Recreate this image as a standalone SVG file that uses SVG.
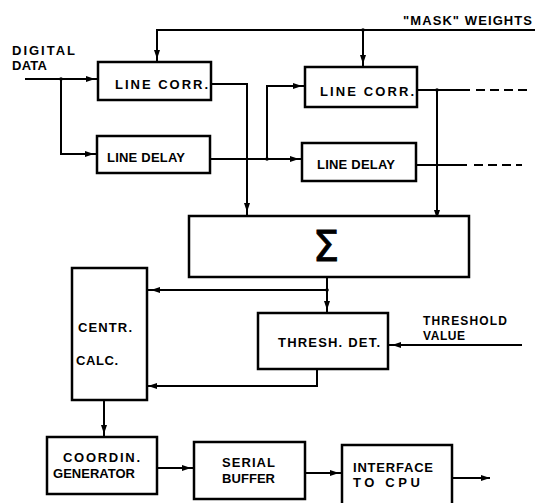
<svg xmlns="http://www.w3.org/2000/svg" width="535" height="503" viewBox="0 0 535 503">
<style>
.box{fill:#fff;stroke:#000;stroke-width:2.5}
.ln{fill:none;stroke:#000;stroke-width:2}
.dash{fill:none;stroke:#000;stroke-width:2;stroke-dasharray:9 5}
.t{font-family:"Liberation Sans",Arial,sans-serif;font-size:13px;font-weight:bold;fill:#000}
.s{font-size:12px}
.sig{font-family:"DejaVu Sans","Liberation Sans",sans-serif;font-size:42px;fill:#000;stroke:#000;stroke-width:0.8}
</style>
<defs>
<marker id="a" markerUnits="userSpaceOnUse" markerWidth="9" markerHeight="6" viewBox="0 0 9 6" refX="12" refY="3" orient="auto">
<path d="M0,0 L9,3 L0,6 z" fill="#000"/>
</marker>
<marker id="ae" markerUnits="userSpaceOnUse" markerWidth="9" markerHeight="6" viewBox="0 0 9 6" refX="9" refY="3" orient="auto">
<path d="M0,0 L9,3 L0,6 z" fill="#000"/>
</marker>
</defs>
<g id="connectors">
<path class="ln" d="M25,79 H98" marker-end="url(#a)"/>
<path class="ln" d="M61,79 V154 H97" marker-end="url(#a)"/>
<path class="ln" d="M535,30 H157 V62" marker-end="url(#a)"/>
<path class="ln" d="M363,30 V67" marker-end="url(#a)"/>
<path class="ln" d="M211,84 H247 V215" marker-end="url(#a)"/>
<path class="ln" d="M210,159 H302" marker-end="url(#a)"/>
<path class="ln" d="M267,159 V86 H305" marker-end="url(#a)"/>
<path class="ln" d="M417,90 H470"/>
<path class="dash" d="M476,90 H527"/>
<path class="ln" d="M437,90 V222" marker-end="url(#a)"/>
<path class="ln" d="M416,165 H467"/>
<path class="dash" d="M474,165 H522"/>
<path class="ln" d="M327,277 V313" marker-end="url(#a)"/>
<path class="ln" d="M327,290 H148" marker-end="url(#a)"/>
<path class="ln" d="M522,345 H389" marker-end="url(#a)"/>
<path class="ln" d="M317,369 V386 H145" marker-end="url(#a)"/>
<path class="ln" d="M104,400 V437" marker-end="url(#a)"/>
<path class="ln" d="M157,468 H194" marker-end="url(#a)"/>
<path class="ln" d="M305,473 H342" marker-end="url(#a)"/>
<path class="ln" d="M452,478 H490" marker-end="url(#ae)"/>
<circle cx="61" cy="79" r="1.8"/>
<circle cx="363" cy="30" r="1.8"/>
<circle cx="267" cy="159" r="1.8"/>
<circle cx="437" cy="90" r="1.8"/>
<circle cx="327" cy="290" r="1.8"/>
</g>
<g id="input-label">
<text class="t" x="12" y="55" textLength="63" lengthAdjust="spacing">DIGITAL</text>
<text class="t" x="12" y="70" textLength="35" lengthAdjust="spacing">DATA</text>
</g>
<g id="mask-label">
<text class="t" x="403" y="25" textLength="129" lengthAdjust="spacing">"MASK" WEIGHTS</text>
</g>
<g id="line-corr-1">
<rect class="box" x="98" y="62" width="113" height="38"/>
<text class="t" x="115" y="89" textLength="93" lengthAdjust="spacing">LINE CORR.</text>
</g>
<g id="line-delay-1">
<rect class="box" x="97" y="136" width="113" height="37"/>
<text class="t" x="107" y="162" textLength="78" lengthAdjust="spacing">LINE DELAY</text>
</g>
<g id="line-corr-2">
<rect class="box" x="305" y="67" width="112" height="40"/>
<text class="t" x="320" y="96" textLength="94" lengthAdjust="spacing">LINE CORR.</text>
</g>
<g id="line-delay-2">
<rect class="box" x="302" y="143" width="114" height="38"/>
<text class="t" x="317" y="169" textLength="78" lengthAdjust="spacing">LINE DELAY</text>
</g>
<g id="sum">
<rect class="box" x="189" y="216" width="280" height="61"/>
<text class="sig" x="326" y="261" text-anchor="middle">Σ</text>
</g>
<g id="centr-calc">
<rect class="box" x="72" y="268" width="75" height="132"/>
<text class="t" x="78" y="332" textLength="54" lengthAdjust="spacing">CENTR.</text>
<text class="t" x="76" y="365" textLength="42" lengthAdjust="spacing">CALC.</text>
</g>
<g id="thresh-det">
<rect class="box" x="258" y="313" width="130" height="56"/>
<text class="t" x="278" y="347" textLength="102" lengthAdjust="spacing">THRESH. DET.</text>
</g>
<g id="threshold-label">
<text class="t s" x="423" y="325" textLength="84" lengthAdjust="spacing">THRESHOLD</text>
<text class="t s" x="423" y="340" textLength="42" lengthAdjust="spacing">VALUE</text>
</g>
<g id="coordin-generator">
<rect class="box" x="47" y="437" width="110" height="57"/>
<text class="t" x="63" y="462" textLength="77" lengthAdjust="spacing">COORDIN.</text>
<text class="t" x="53" y="478" textLength="82" lengthAdjust="spacing">GENERATOR</text>
</g>
<g id="serial-buffer">
<rect class="box" x="194" y="442" width="111" height="57"/>
<text class="t" x="222" y="467" textLength="53" lengthAdjust="spacing">SERIAL</text>
<text class="t" x="222" y="483" textLength="53" lengthAdjust="spacing">BUFFER</text>
</g>
<g id="interface-cpu">
<rect class="box" x="342" y="445" width="110" height="62"/>
<text class="t" x="353" y="472" textLength="80" lengthAdjust="spacing">INTERFACE</text>
<text class="t" x="353" y="487" textLength="67" lengthAdjust="spacing">TO  CPU</text>
</g>
</svg>
